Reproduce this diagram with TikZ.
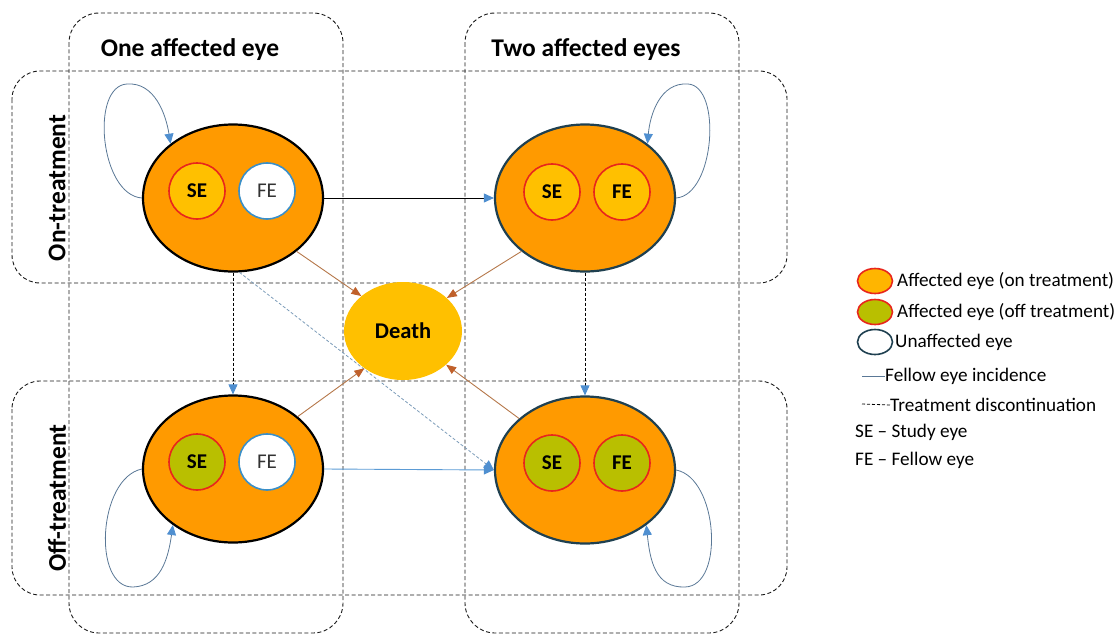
\documentclass[tikz,border=0pt]{standalone}
\usepackage{fontspec}
\setmainfont{Carlito}
\usetikzlibrary{arrows.meta,shapes.geometric,calc}
\definecolor{ellorange}{HTML}{FF9A00}
\definecolor{goldfill}{HTML}{FFC000}
\definecolor{offgreen}{HTML}{B9BF00}
\definecolor{eyered}{HTML}{E8261C}
\definecolor{eyeblue}{HTML}{3A8FC8}
\definecolor{tipblue}{HTML}{4F8FD0}
\definecolor{brownln}{HTML}{B5774A}
\definecolor{browntip}{HTML}{C0602A}
\definecolor{boxgray}{HTML}{1A1A1A}
\definecolor{loopcol}{HTML}{5A7896}
\definecolor{tealborder}{HTML}{1F4050}
\definecolor{diagcol}{HTML}{7B9BB8}
\definecolor{fellowln}{HTML}{5B9BD5}
\tikzset{
  groupbox/.style={draw=boxgray, line width=0.9pt, dash pattern=on 4pt off 2.5pt},
  bigell/.style={ellipse, fill=ellorange, draw=black, line width=2.2pt, minimum width=180pt, minimum height=147pt, inner sep=0pt},
  bigellT/.style={bigell, draw=tealborder},
  eye/.style={circle, minimum size=56pt, inner sep=0pt, line width=1.6pt, font=\fontsize{21}{23}\selectfont},
  eyeon/.style={eye, fill=goldfill, draw=eyered, font=\bfseries\fontsize{21}{23}\selectfont},
  eyeoff/.style={eye, fill=offgreen, draw=eyered, font=\bfseries\fontsize{21}{23}\selectfont},
  eyeun/.style={eye, fill=white, draw=eyeblue, text=black!80},
  btip/.style={-{Triangle[length=10pt,width=9pt,color=tipblue]}},
  brtip/.style={-{Triangle[length=10pt,width=8pt,color=browntip]}},
  loopline/.style={draw=loopcol, line width=0.8pt, btip},
  deathline/.style={draw=brownln, line width=0.9pt, brtip},
  header/.style={font=\bfseries\fontsize{25.5}{28}\selectfont},
  legtext/.style={anchor=west, font=\fontsize{19.2}{21}\selectfont, inner sep=0pt},
  legell/.style={ellipse, minimum width=35pt, minimum height=25pt, inner sep=0pt, line width=1.6pt}
}
\begin{document}
\begin{tikzpicture}[x=1pt, y=-1pt]
\useasboundingbox (0,0) rectangle (1117,634);
% group boxes
\draw[groupbox, rounded corners=30pt] (69,13) rectangle (343,633);
\draw[groupbox, rounded corners=30pt] (465,13) rectangle (739,633);
\draw[groupbox, rounded corners=28pt] (12,71) rectangle (787,283);
\draw[groupbox, rounded corners=28pt] (12,381) rectangle (787,595);
% headers
\node[header] (h1) at (190,50) {One affected eye};
\node[header] (h2) at (586,50) {Two affected eyes};
\node[header, rotate=90] (r1) at (57,188) {On-treatment};
\node[header, rotate=90] (r2) at (57,498) {Off-treatment};
% states
\node[bigell] (TL) at (233,198) {};
\node[bigellT] (TR) at (585,198) {};
\node[bigell] (BL) at (233,469) {};
\node[bigellT] (BR) at (585,470) {};
\node[eyeon] (TLse) at (197,191) {SE};
\node[eyeun] (TLfe) at (267,191) {FE};
\node[eyeon] (TRse) at (552,192) {SE};
\node[eyeon] (TRfe) at (622,192) {FE};
\node[eyeoff] (BLse) at (197,462) {SE};
\node[eyeun] (BLfe) at (267,462) {FE};
\node[eyeoff] (BRse) at (552,463) {SE};
\node[eyeoff] (BRfe) at (622,463) {FE};
\node[ellipse, fill=goldfill, minimum width=118pt, minimum height=98pt, inner sep=0pt, font=\bfseries\fontsize{22.5}{24}\selectfont] (D) at (403,331) {Death};
% transitions
\draw[black, line width=0.9pt, btip] (TL.east) -- (TR.west);
\draw[fellowln, line width=0.9pt, btip] (BL.east) -- (BR.west);
\draw[black, line width=0.8pt, dash pattern=on 3pt off 2pt, btip] (TL.south) -- (BL.north);
\draw[black, line width=0.8pt, dash pattern=on 3pt off 2pt, btip] (TR.south) -- (BR.north);
\draw[diagcol, line width=0.8pt, dash pattern=on 3pt off 2pt, btip] (TL.275) -- (BR.west);
% death
\draw[deathline] (TL.320) -- (D.140);
\draw[deathline] (TR.220) -- (D.37);
\draw[deathline] (BL.39) -- (D.224);
\draw[deathline] (BR.142) -- (D.322);
% self loops
\draw[loopline] (TL.west) .. controls (100,195) and (90,86) .. (127,84) .. controls (155,82) and (166,115) .. (TL.139);
\draw[loopline] (TR.east) .. controls (715,195) and (722,86) .. (688,84) .. controls (660,82) and (650,115) .. (TR.41);
\draw[loopline] (BL.west) .. controls (98,478) and (92,588) .. (133,587) .. controls (160,586) and (168,560) .. (BL.223);
\draw[loopline] (BR.east) .. controls (718,478) and (725,586) .. (685,587) .. controls (655,588) and (650,560) .. (BR.318);
% legend
\node[legell, fill=goldfill!70!ellorange, draw=eyered] (L1) at (875,281) {};
\node[legtext] (L1t) at (897,281) {Affected eye (on treatment)};
\node[legell, fill=offgreen, draw=eyered] (L2) at (875,312) {};
\node[legtext] (L2t) at (897,312) {Affected eye (off treatment)};
\node[legell, fill=white, draw=tealborder] (L3) at (875,342) {};
\node[legtext] (L3t) at (895,342) {Unaffected eye};
\coordinate (L4a) at (862,376);
\node[legtext] (L4t) at (885,376) {Fellow eye incidence};
\draw[loopcol, line width=0.8pt] (L4a) -- (L4t.west);
\coordinate (L5a) at (862,404);
\node[legtext] (L5t) at (890,405) {Treatment discontinuation};
\draw[black, line width=0.8pt, dash pattern=on 3pt off 2pt] (L5a) -- (L5t.west);
\node[legtext] (L6t) at (855,432) {SE -- Study eye};
\node[legtext] (L7t) at (855,460) {FE -- Fellow eye};
\end{tikzpicture}
\end{document}
